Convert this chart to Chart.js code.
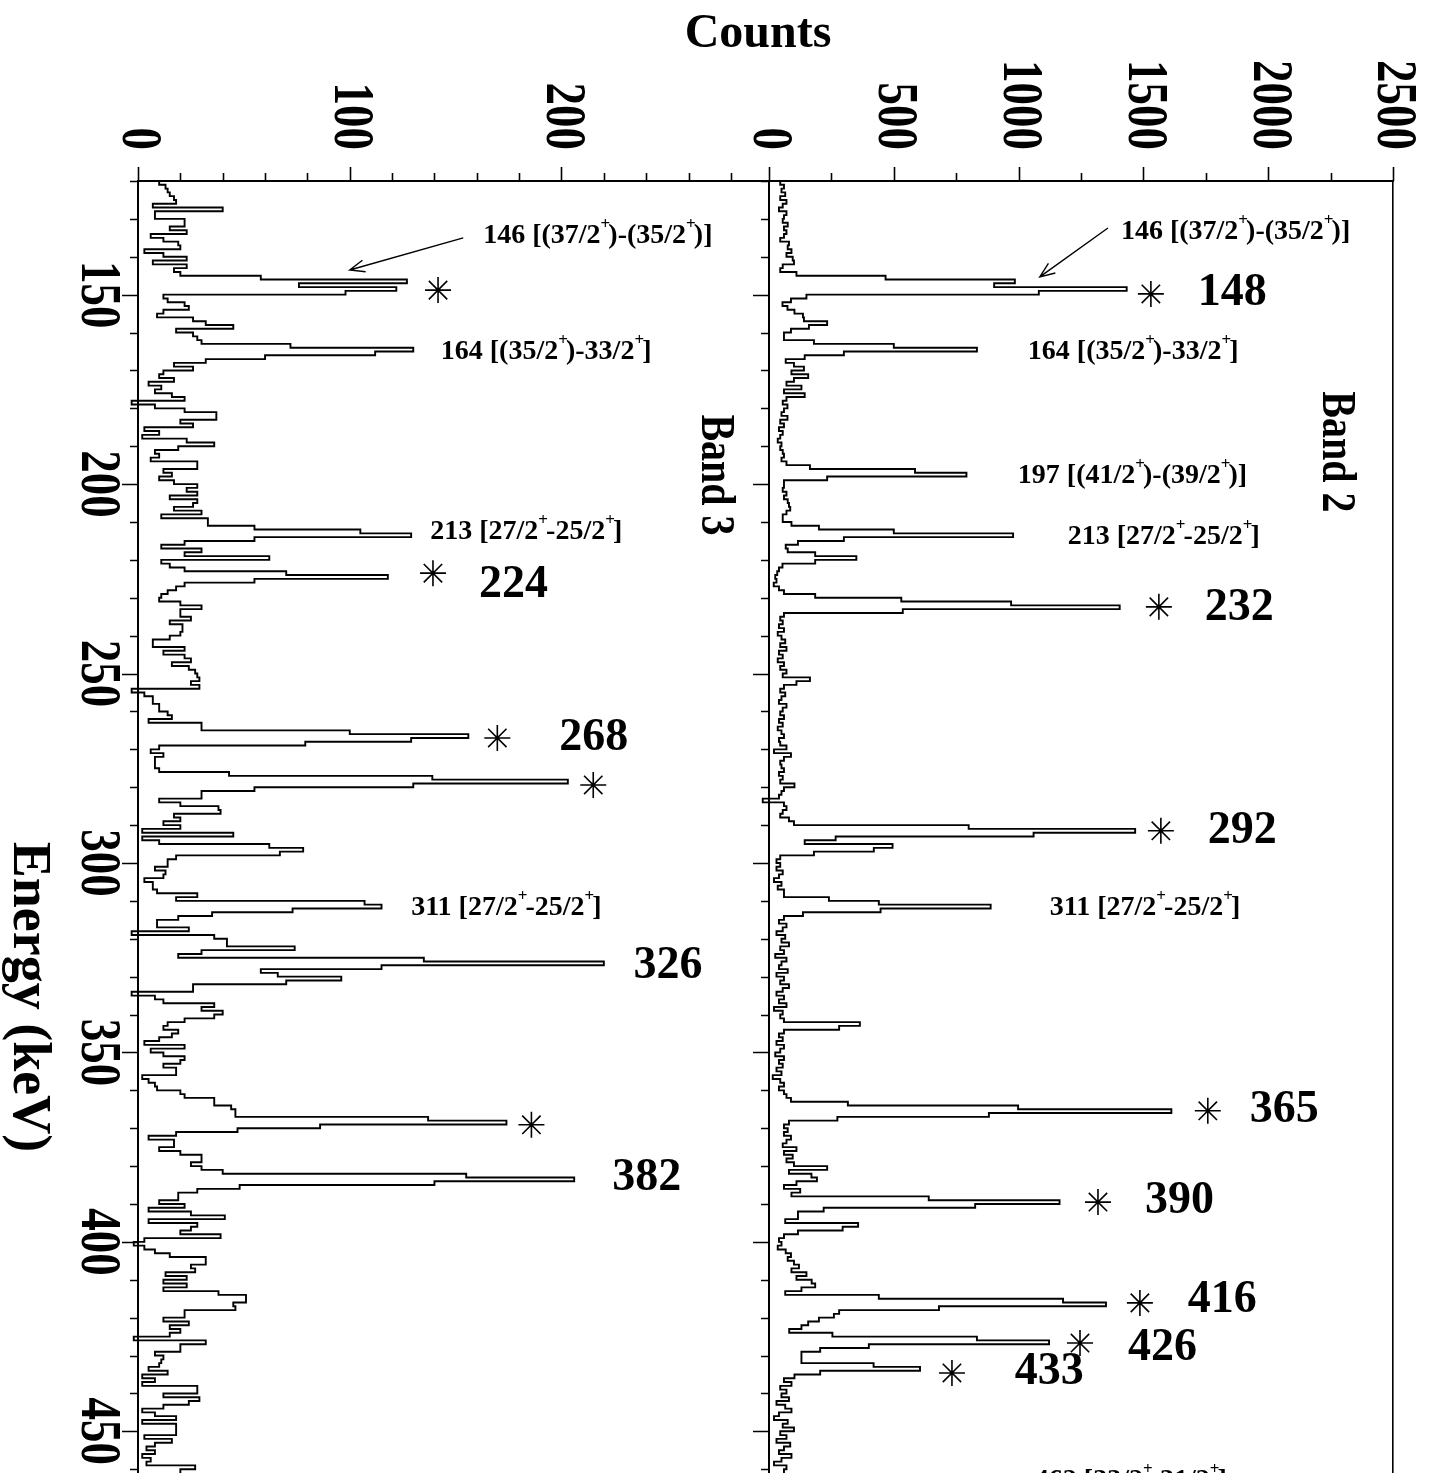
<!DOCTYPE html>
<html lang="en">
<head>
<meta charset="UTF-8">
<title>Gated spectra - Band 2 / Band 3</title>
<script src="https://cdn.jsdelivr.net/npm/chart.js"></script>
<style>
  body { margin: 0; background: #fff; }
  #wrap { position: relative; width: 1431px; height: 1473px; overflow: hidden; background: #fff; }
  #wrap canvas { position: absolute; left: 0; top: 0; }
</style>
</head>
<body>
<div id="wrap">
  <canvas id="band3" width="1431" height="1473"></canvas>
  <canvas id="band2" width="1431" height="1473"></canvas>
</div>
<script>
// channel layout: 1 keV per channel, first channel starts at 120 keV
const E_START = 120;
const CHANNEL = 1;
const E_MIN = 120;
const E_MAX = 461;

// tick labels
const energyTicks = [150, 200, 250, 300, 350, 400, 450];
const energyMinorStep = 10;
const band3CountTicks = [0, 100, 200];
const band3MinorStep = 20;
const band2CountTicks = [0, 500, 1000, 1500, 2000, 2500];
const band2MinorStep = 250;

// Band 3 gate, counts per channel from 120 keV
const band3Counts = [
  10, 13, 14, 15, 17, 18, 7, 40, 8, 8,           // 120
  22, 22, 15, 23, 6, 12, 19, 20, 3, 12,          // 130
  23, 7, 23, 17, 20, 58, 127, 76, 122, 98,       // 140
  12, 14, 22, 24, 12, 9, 26, 32, 45, 18,         // 150
  26, 28, 30, 72, 130, 112, 60, 32, 17, 26,      // 160
  12, 10, 17, 5, 11, 8, 16, 22, -3, 8,           // 170
  22, 37, 37, 20, 26, 3, 10, 2, 23, 36,          // 180
  19, 8, 10, 6, 28, 28, 12, 16, 10, 17,          // 190
  28, 23, 28, 15, 28, 26, 17, 30, 11, 33,        // 200
  33, 55, 105, 129, 55, 22, 11, 30, 22, 62,      // 210
  11, 15, 22, 70, 118, 55, 22, 18, 14, 11,       // 220
  10, 20, 30, 20, 20, 25, 15, 21, 21, 20,        // 230
  15, 7, 7, 22, 12, 22, 25, 16, 24, 27,          // 240
  28, 29, 25, 29, -3, 3, 7, 7, 10, 10,           // 250
  14, 16, 5, 30, 30, 100, 156, 129, 79, 10,      // 260
  6, 12, 8, 8, 8, 10, 43, 139, 203, 130,         // 270
  55, 30, 30, 10, 20, 38, 39, 17, 20, 12,        // 280
  20, 2, 45, 2, 10, 62, 78, 67, 18, 14,          // 290
  14, 8, 13, 12, 3, 7, 7, 9, 28, 18,             // 300
  107, 115, 73, 35, 19, 9, 9, 24, -3, 36,        // 310
  42, 42, 74, 30, 19, 135, 220, 115, 58, 66,     // 320
  96, 70, 26, 26, -3, 8, 12, 36, 30, 40,         // 330
  36, 22, 14, 12, 19, 16, 10, 3, 22, 6,          // 340
  12, 22, 20, 12, 18, 18, 2, 5, 8, 9,            // 350
  20, 22, 36, 36, 44, 46, 46, 137, 174, 86,      // 360
  47, 18, 5, 17, 17, 10, 20, 30, 30, 25,         // 370
  30, 40, 155, 206, 140, 48, 28, 19, 19, 10,     // 380
  22, 5, 25, 41, 5, 28, 25, 20, 39, 3,           // 390
  -2, 3, 8, 15, 32, 32, 25, 27, 13, 23,          // 400
  12, 23, 12, 38, 51, 51, 45, 46, 22, 22,        // 410
  12, 24, 15, 20, 15, -2, 32, 20, 20, 8,         // 420
  12, 11, 10, 5, 14, 2, 8, 2, 28, 28,            // 430
  12, 29, 24, 12, 2, 8, 18, 2, 18, 18,           // 440
  18, 3, 16, 8, 4, 8, 2, 6, 4, 27, 20            // 450
];

// Band 2 gate, counts per channel from 120 keV
const band2Counts = [
  45, 60, 50, 65, 45, 70, 55, 40, 70, 60,              // 120
  55, 75, 60, 70, 60, 45, 80, 75, 90, 70,              // 130
  95, 100, 55, 45, 110, 467, 985, 902, 1433, 1081,     // 140
  150, 88, 54, 74, 102, 136, 140, 233, 160, 88,        // 150
  60, 60, 180, 500, 833, 300, 143, 67, 100, 140,       // 160
  90, 157, 100, 70, 130, 60, 143, 70, 55, 74,          // 170
  60, 50, 74, 45, 60, 40, 55, 45, 35, 50,              // 180
  45, 55, 60, 50, 70, 164, 585, 791, 233, 60,          // 190
  60, 55, 70, 60, 75, 80, 85, 70, 55, 55,              // 200
  90, 200, 500, 978, 300, 116, 67, 75, 185, 350,       // 210
  185, 54, 40, 33, 25, 30, 19, 40, 60, 185,            // 220
  530, 970, 1405, 536, 60, 45, 55, 40, 60, 35,         // 230
  50, 65, 45, 70, 40, 55, 35, 60, 45, 70,              // 240
  55, 164, 110, 60, 45, 65, 50, 40, 70, 55,            // 250
  45, 60, 40, 55, 35, 50, 60, 40, 45, 70,              // 260
  20, 88, 60, 45, 50, 60, 40, 55, 45, 102,             // 270
  60, 50, 40, -25, 60, 70, 55, 45, 80, 100,            // 280
  800, 1467, 1060, 267, 143, 495, 420, 180, 45, 30,    // 290
  45, 30, 55, 40, 20, 50, 35, 60, 60, 240,             // 300
  440, 888, 447, 136, 60, 40, 70, 55, 30, 65,          // 310
  50, 80, 45, 60, 25, 70, 50, 40, 75, 30,              // 320
  60, 45, 80, 55, 30, 60, 40, 70, 20, 55,              // 330
  45, 60, 364, 281, 60, 40, 55, 30, 60, 45,            // 340
  25, 60, 40, 55, 30, 50, 15, 45, 60, 40,              // 350
  60, 70, 88, 316, 998, 1612, 881, 274, 80, 60,        // 360
  75, 60, 88, 70, 55, 110, 60, 95, 70, 100,            // 370
  233, 80, 170, 192, 110, 60, 125, 90, 640, 1164,      // 380
  826, 219, 116, 116, 65, 357, 295, 116, 60, 40,       // 390
  50, 35, 67, 88, 75, 100, 120, 90, 150, 110,          // 400
  171, 185, 130, 65, 440, 1178, 1350, 681, 281, 260,   // 410
  200, 157, 130, 81, 254, 833, 1122, 400, 205, 130,    // 420
  130, 130, 419, 605, 205, 102, 60, 90, 45, 70,        // 430
  50, 80, 30, 65, 90, 40, 20, 75, 55, 100,             // 440
  45, 70, 30, 85, 60, 40, 90, 50, 20, 70, 60           // 450
];

// transition labels (c = counts, e = keV where the text sits)
const band3Labels = [
  { text: '146 [(37/2^+)-(35/2^+)]', c: 163, e: 134.5, size: 28 },
  { text: '164 [(35/2^+)-33/2^+]', c: 143, e: 165.1, size: 28 },
  { text: '213 [27/2^+-25/2^+]', c: 138, e: 212.6, size: 28 },
  { text: '311 [27/2^+-25/2^+]', c: 129, e: 311.9, size: 28 },
  { text: '224', c: 161, e: 226.6, size: 46 },
  { text: '268', c: 199, e: 267.0, size: 46 },
  { text: '326', c: 234, e: 327.2, size: 46 },
  { text: '382', c: 224, e: 383.1, size: 46 }
];
const band3Stars = [
  { c: 141.7, e: 148.8 }, { c: 139.3, e: 223.5 }, { c: 169.7, e: 267.0 },
  { c: 215.0, e: 279.4 }, { c: 185.8, e: 369.1 }
];
const band3Arrow = { from: { c: 153.6, e: 135.0 }, to: { c: 100, e: 143.5 } };

const band2Labels = [
  { text: '146 [(37/2^+)-(35/2^+)]', c: 1410, e: 133.5, size: 28 },
  { text: '164 [(35/2^+)-33/2^+]', c: 1037, e: 165.1, size: 28 },
  { text: '197 [(41/2^+)-(39/2^+)]', c: 997, e: 197.9, size: 28 },
  { text: '213 [27/2^+-25/2^+]', c: 1197, e: 214.0, size: 28 },
  { text: '311 [27/2^+-25/2^+]', c: 1125, e: 311.9, size: 28 },
  { text: '462 [33/2^+-31/2^+]', c: 1065, e: 463.0, size: 28 },
  { text: '148', c: 1718, e: 149.6, size: 46 },
  { text: '232', c: 1746, e: 232.6, size: 46 },
  { text: '292', c: 1758, e: 291.5, size: 46 },
  { text: '365', c: 1926, e: 365.2, size: 46 },
  { text: '390', c: 1506, e: 389.3, size: 46 },
  { text: '416', c: 1678, e: 415.3, size: 46 },
  { text: '426', c: 1438, e: 428.0, size: 46 },
  { text: '433', c: 985, e: 434.3, size: 46 }
];
const band2Stars = [
  { c: 1530, e: 149.8 }, { c: 1562, e: 232.4 }, { c: 1570, e: 291.5 },
  { c: 1758, e: 365.4 }, { c: 1318, e: 389.5 }, { c: 1486, e: 416.1 },
  { c: 1246, e: 426.7 }, { c: 733, e: 434.6 }
];
const band2Arrow = { from: { c: 1358, e: 132.4 }, to: { c: 1085, e: 145.3 } };

const FONT = '"Liberation Serif", "Times New Roman", Times, serif';
const fontStr = size => 'bold ' + size + 'px ' + FONT;

// text with "^+" written as a raised small plus
function drawRich(ctx, text, x, y, size) {
  const parts = text.split('^+');
  ctx.textAlign = 'left';
  ctx.textBaseline = 'middle';
  let cx = x;
  parts.forEach((p, i) => {
    ctx.font = fontStr(size);
    ctx.fillText(p, cx, y);
    cx += ctx.measureText(p).width;
    if (i < parts.length - 1) {
      ctx.font = fontStr(Math.round(size * 0.6));
      ctx.fillText('+', cx, y - size * 0.4);
      cx += ctx.measureText('+').width * 0.8;
    }
  });
}

// text turned a quarter clockwise (reads top to bottom)
function drawTurned(ctx, text, x, y, size, align, stretch) {
  ctx.save();
  ctx.translate(x, y);
  ctx.rotate(Math.PI / 2);
  ctx.scale(1, stretch || 1);
  ctx.font = fontStr(size);
  ctx.textAlign = align;
  ctx.textBaseline = 'middle';
  ctx.fillText(text, 0, 0);
  ctx.restore();
}

function drawStar(ctx, x, y, r) {
  ctx.beginPath();
  for (let k = 0; k < 4; k++) {
    const a = k * Math.PI / 4;
    ctx.moveTo(x - r * Math.cos(a), y - r * Math.sin(a));
    ctx.lineTo(x + r * Math.cos(a), y + r * Math.sin(a));
  }
  ctx.stroke();
}

function drawArrow(ctx, x1, y1, x2, y2) {
  const ang = Math.atan2(y2 - y1, x2 - x1), h = 16;
  ctx.beginPath();
  ctx.moveTo(x1, y1);
  ctx.lineTo(x2, y2);
  ctx.moveTo(x2 - h * Math.cos(ang - 0.38), y2 - h * Math.sin(ang - 0.38));
  ctx.lineTo(x2, y2);
  ctx.lineTo(x2 - h * Math.cos(ang + 0.38), y2 - h * Math.sin(ang + 0.38));
  ctx.stroke();
}

// axis ticks, turned tick labels and the peak annotations
const spectrumDecor = {
  id: 'spectrumDecor',
  afterDraw(chart, args, o) {
    const ctx = chart.ctx;
    const xs = chart.scales.x, ys = chart.scales.y;
    const area = chart.chartArea;
    const px = c => xs.getPixelForValue(c);
    const py = e => ys.getPixelForValue(e);
    ctx.save();
    ctx.strokeStyle = '#000';
    ctx.fillStyle = '#000';

    // count ticks along the top
    ctx.lineWidth = 1.6;
    ctx.beginPath();
    for (let v = xs.min; v <= xs.max + 1e-6; v += o.countStep) {
      const major = o.countTicks.includes(v);
      const x = Math.round(px(v)) + 0.5;
      ctx.moveTo(x, area.top);
      ctx.lineTo(x, area.top - (major ? 14 : 8));
    }
    // energy ticks along the left edge
    for (let v = E_MIN; v <= E_MAX; v += energyMinorStep) {
      const major = energyTicks.includes(v);
      const y = Math.round(py(v)) + 0.5;
      ctx.moveTo(area.left, y);
      ctx.lineTo(area.left - (major ? 16 : 8), y);
    }
    ctx.stroke();

    o.countTicks.forEach(v => drawTurned(ctx, String(v), px(v), area.top - 31, 45, 'right', 1.25));
    if (o.energyLabels) {
      energyTicks.forEach(v => drawTurned(ctx, String(v), area.left - 41, py(v), 45, 'center', 1.25));
      drawTurned(ctx, o.energyTitle, 28, 997, 54, 'center', 1);
    }
    if (o.countsTitle) {
      ctx.font = fontStr(48);
      ctx.textAlign = 'center';
      ctx.textBaseline = 'alphabetic';
      ctx.fillText(o.countsTitle, 758, 47);
    }

    drawTurned(ctx, o.band.text, px(o.band.c), py(o.band.e), 40, 'center', 1.2);

    o.labels.forEach(l => drawRich(ctx, l.text, px(l.c), py(l.e), l.size));

    ctx.lineWidth = 1.6;
    o.stars.forEach(s => drawStar(ctx, px(s.c), py(s.e), 13));
    ctx.lineWidth = 1.4;
    drawArrow(ctx, px(o.arrow.from.c), py(o.arrow.from.e), px(o.arrow.to.c), py(o.arrow.to.e));
    ctx.restore();
  }
};

function histPoints(counts) {
  const pts = counts.map((c, i) => ({ x: c, y: E_START + i * CHANNEL }));
  pts.push({ x: counts[counts.length - 1], y: E_START + counts.length * CHANNEL });
  return pts;
}

function makePanel(id, counts, xMax, left, right, decor, frameRight) {
  const scales = {
    x: {
      type: 'linear', position: 'top', min: 0, max: xMax,
      grid: { display: false },
      border: { display: true, color: '#000', width: 2 },
      ticks: { display: false },
      afterFit: s => { s.height = 0; }
    },
    y: {
      type: 'linear', position: 'left', reverse: true, min: E_MIN, max: E_MAX,
      grid: { display: false },
      border: { display: true, color: '#000', width: 2 },
      ticks: { display: false },
      afterFit: s => { s.width = 0; }
    }
  };
  if (frameRight) {
    scales.yFrame = {
      type: 'linear', position: 'right', reverse: true, min: E_MIN, max: E_MAX,
      grid: { display: false },
      border: { display: true, color: '#000', width: 1.6 },
      ticks: { display: false },
      afterFit: s => { s.width = 0; }
    };
  }
  return new Chart(document.getElementById(id), {
    type: 'scatter',
    data: {
      datasets: [{
        data: histPoints(counts),
        showLine: true,
        stepped: 'after',
        borderColor: '#000',
        borderWidth: 1.9,
        pointRadius: 0,
        clip: false
      }]
    },
    options: {
      responsive: false,
      animation: false,
      events: [],
      layout: { padding: { left: left, right: 1431 - right, top: 181, bottom: 0 } },
      scales: scales,
      plugins: {
        legend: { display: false },
        tooltip: { enabled: false },
        spectrumDecor: decor
      }
    },
    plugins: [spectrumDecor]
  });
}

makePanel('band3', band3Counts, 298, 138, 769, {
  countTicks: band3CountTicks, countStep: band3MinorStep,
  energyLabels: true, energyTitle: 'Energy (keV)', countsTitle: 'Counts',
  band: { text: 'Band 3', c: 272, e: 197.6 },
  labels: band3Labels, stars: band3Stars, arrow: band3Arrow
}, false);

makePanel('band2', band2Counts, 2500, 769, 1393, {
  countTicks: band2CountTicks, countStep: band2MinorStep,
  energyLabels: false,
  band: { text: 'Band 2', c: 2271, e: 191.5 },
  labels: band2Labels, stars: band2Stars, arrow: band2Arrow
}, true);
</script>
</body>
</html>
